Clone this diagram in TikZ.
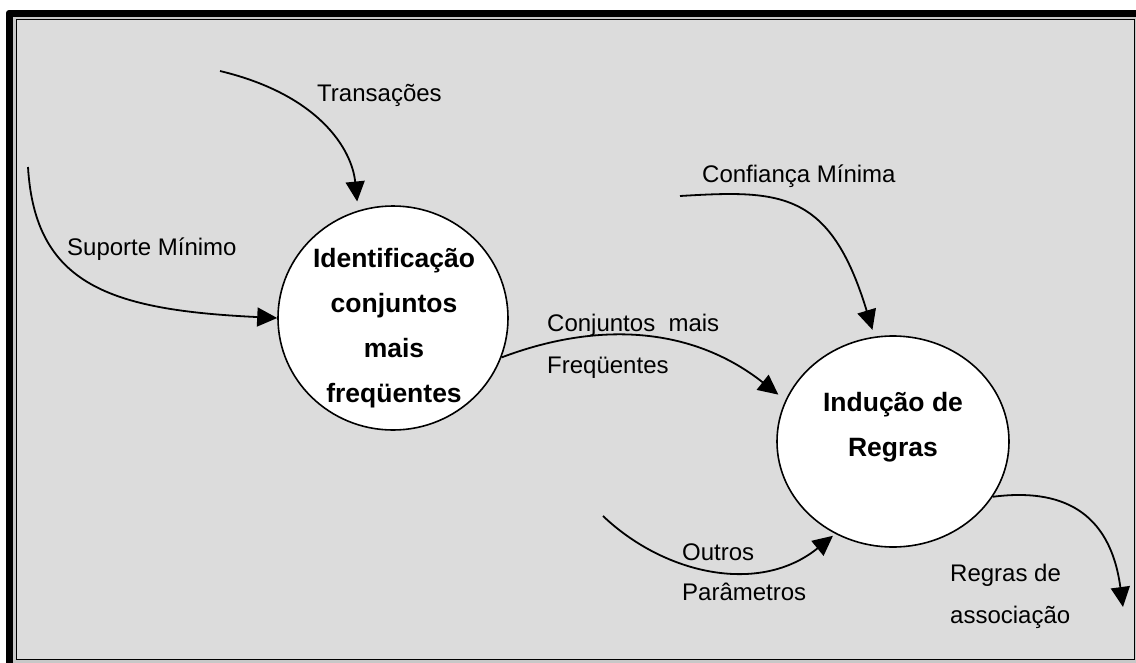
\documentclass[tikz,border=0pt]{standalone}
\usepackage{fontspec}
\setmainfont{Liberation Sans}
\usetikzlibrary{arrows.meta,shapes.geometric}
\definecolor{panel}{RGB}{220,220,220}
\definecolor{gapgray}{RGB}{200,200,200}
\tikzset{
  arr/.style={line width=1.8pt, -{Triangle[length=20pt,width=19pt]}},
  lbl/.style={font=\fontsize{24}{28}\selectfont, inner sep=0pt, anchor=base west},
  ttl/.style={font=\fontsize{26.5}{30}\selectfont\bfseries, inner sep=0pt, anchor=base},
  proc/.style={ellipse, draw, fill=white, line width=1.6pt, inner sep=0pt},
}
\begin{document}
\begin{tikzpicture}[x=1pt,y=-1pt]
\useasboundingbox (0,0) rectangle (1136,662);
\fill[white] (0,0) rectangle (1136,662);
\begin{scope}
  \clip (0,0) rectangle (1136,662);
  \fill[black, rounded corners=3pt] (6,10) rectangle (1150,680);
  \fill[gapgray] (13,16.5) rectangle (1150,680);
\end{scope}
\draw[fill=panel, line width=1.2pt] (16.5,19.5) rectangle (1134.5,659.5);

% processes
\node[proc, minimum width=230pt, minimum height=224pt] (c1) at (393,318) {};
\node[proc, minimum width=232pt, minimum height=211pt] (c2) at (893,441.5) {};

\node[ttl] (c1a) at (394,267.3) {Identificação};
\node[ttl] (c1b) at (394,312.5) {conjuntos};
\node[ttl] (c1c) at (394,357.7) {mais};
\node[ttl] (c1d) at (394,402.9) {freqüentes};
\node[ttl] (c2a) at (893,411.7) {Indução de};
\node[ttl] (c2b) at (893,456.7) {Regras};

% free ends
\coordinate (tA) at (220,71);
\coordinate (sA) at (28,167);
\coordinate (cA) at (680,196);
\coordinate (oA) at (603,516);
\coordinate (rA) at (1123,607);

% connectors
\draw[arr, shorten >=9pt] (tA) .. controls (320,95) and (352,150) .. (c1.108);
\draw[arr] (sA) .. controls (35,285) and (110,310) .. (c1.west);
\draw[arr, shorten >=9pt] (c1.-20) .. controls (595,322) and (690,325) .. (c2.159);
\draw[arr, shorten >=7pt] (cA) .. controls (780,190) and (830,190) .. (c2.100);
\draw[arr, shorten >=3pt] (oA) .. controls (665,575) and (760,595) .. (c2.238);
\draw[arr] (c2.-29) .. controls (1060,488) and (1110,510) .. (rA);

% labels
\node[lbl] (lT) at (317,101.7) {Transações};
\node[lbl] (lS) at (67,255) {Suporte Mínimo};
\node[lbl] (lC) at (702,182) {Confiança Mínima};
\node[lbl] (lF1) at (547,331.7) {Conjuntos\ \ mais};
\node[lbl] (lF2) at (547,373.3) {Freqüentes};
\node[lbl] (lO1) at (682,560) {Outros};
\node[lbl] (lO2) at (682,600.7) {Parâmetros};
\node[lbl] (lR1) at (950,581.7) {Regras de};
\node[lbl] (lR2) at (950,623.3) {associação};
\end{tikzpicture}
\end{document}
